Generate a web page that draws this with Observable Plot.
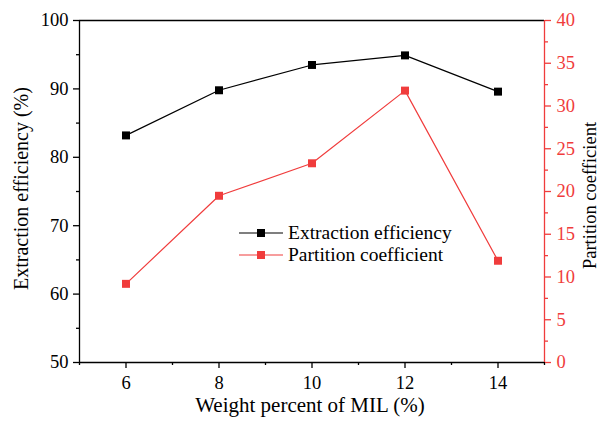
<!DOCTYPE html>
<html><head><meta charset="utf-8">
<script src="https://cdn.jsdelivr.net/npm/d3@7"></script>
<script src="https://cdn.jsdelivr.net/npm/@observablehq/plot@0.6"></script>
<style>
body{margin:0;background:#fff;}
#wrap{position:relative;width:601px;height:423px;}
#wrap svg{position:absolute;left:0;top:0;}
#wrap svg text{font-family:'Liberation Serif','Times New Roman',serif !important;font-variant:normal !important;}
</style></head><body><div id="wrap"></div>
<script>
const weightPercent = [6, 8, 10, 12, 14];
const extractionEfficiency = [83.2, 89.8, 93.5, 94.9, 89.6];
const partitionCoefficient = [9.2, 19.5, 23.3, 31.8, 11.9];
const xTicks = [6, 8, 10, 12, 14];
const xMinorTicks = [5, 7, 9, 11, 13, 15];
const leftTicks = [50, 60, 70, 80, 90, 100];
const leftMinorTicks = [55, 65, 75, 85, 95];
const rightTicks = [0, 5, 10, 15, 20, 25, 30, 35, 40];
const rightMinorTicks = [2.5, 7.5, 12.5, 17.5, 22.5, 27.5, 32.5, 37.5];
const seriesNames = ["Extraction efficiency", "Partition coefficient"];
const xLabel = "Weight percent of MIL (%)";
const leftLabel = "Extraction efficiency (%)";
const rightLabel = "Partition coefficient";

const RED = "#f03c3c";
const BLACK = "#000000";
const seriesColors = [BLACK, RED];
const W = 601, H = 423;
const font = "'Liberation Serif', 'Times New Roman', serif";
const common = {
  width: W, height: H,
  marginLeft: 79, marginRight: 57, marginTop: 20, marginBottom: 61,
  style: {fontFamily: font, fontSize: "18.5px", background: "transparent", overflow: "visible", color: "#000"}
};
const effData = weightPercent.map((x, i) => ({x, y: extractionEfficiency[i]}));
const pcData = weightPercent.map((x, i) => ({x, y: partitionCoefficient[i]}));
const SW = 1.3;

const leftPlot = Plot.plot({
  ...common,
  x: {domain: [5, 15]},
  y: {domain: [50, 100]},
  marks: [
    Plot.ruleY([100], {stroke: BLACK, strokeWidth: SW}),
    Plot.ruleY([50], {stroke: BLACK, strokeWidth: SW}),
    Plot.ruleX([5], {stroke: BLACK, strokeWidth: SW}),
    Plot.axisX({ticks: xTicks, tickSize: 6, tickPadding: 7, label: null, strokeWidth: SW, fontFamily: font}),
    Plot.axisX({ticks: xMinorTicks, tickSize: 3, tickFormat: () => "", label: null, strokeWidth: SW}),
    Plot.axisY({ticks: leftTicks, tickSize: 6, tickPadding: 5, label: null, strokeWidth: SW, fontFamily: font}),
    Plot.axisY({ticks: leftMinorTicks, tickSize: 3, tickFormat: () => "", label: null, strokeWidth: SW}),
    Plot.line(effData, {x: "x", y: "y", stroke: BLACK, strokeWidth: 1.2}),
    Plot.dot(effData, {x: "x", y: "y", symbol: "square", r: 4.5, fill: BLACK, stroke: null}),
    Plot.text([xLabel], {text: d => d, frameAnchor: "bottom", textAnchor: "middle", dx: -2, dy: 49, fontSize: 21, fill: BLACK}),
    Plot.text([leftLabel], {text: d => d, frameAnchor: "left", textAnchor: "middle", dx: -58, dy: -3, rotate: -90, fontSize: 20, fill: BLACK})
  ]
});

const rightPlot = Plot.plot({
  ...common,
  x: {domain: [5, 15], axis: null},
  y: {domain: [0, 40]},
  marks: [
    Plot.ruleX([15], {stroke: RED, strokeWidth: SW}),
    Plot.axisY({anchor: "right", ticks: rightTicks, tickSize: 6, tickPadding: 6, label: null, color: RED, strokeWidth: SW, fontFamily: font}),
    Plot.axisY({anchor: "right", ticks: rightMinorTicks, tickSize: 3, tickFormat: () => "", label: null, color: RED, strokeWidth: SW}),
    Plot.line(pcData, {x: "x", y: "y", stroke: RED, strokeWidth: 1.2}),
    Plot.dot(pcData, {x: "x", y: "y", symbol: "square", r: 4.5, fill: RED, stroke: null}),
    Plot.text([rightLabel], {text: d => d, frameAnchor: "right", textAnchor: "middle", dx: 46, dy: 4, rotate: -90, fontSize: 18.5, fill: BLACK})
  ]
});

const wrap = document.getElementById("wrap");
wrap.appendChild(leftPlot);
wrap.appendChild(rightPlot);

// legend
const legend = d3.select(wrap).append("svg")
  .attr("width", W).attr("height", H)
  .style("pointer-events", "none");
const rows = legend.selectAll("g").data(seriesNames).join("g")
  .attr("transform", (d, i) => `translate(239, ${233 + i * 22})`);
rows.append("line").attr("x1", 0).attr("x2", 44).attr("y1", 0).attr("y2", 0)
  .attr("stroke", (d, i) => seriesColors[i]).attr("stroke-width", 1.2);
rows.append("rect").attr("x", 18).attr("y", -4).attr("width", 8).attr("height", 8)
  .attr("fill", (d, i) => seriesColors[i]);
rows.append("text").attr("x", 49).attr("y", 0).attr("dy", "0.32em")
  .style("font-family", font).style("font-size", "19.5px").attr("fill", "#000")
  .text(d => d);
</script></body></html>
